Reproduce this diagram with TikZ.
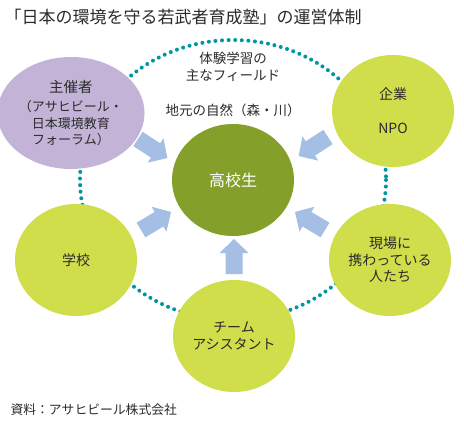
\documentclass[tikz,border=0pt]{standalone}
\usepackage{fontspec}
\setmainfont{Noto Sans CJK JP}
\usepackage{tikz}
\usetikzlibrary{shapes.geometric}
\definecolor{txtgray}{HTML}{2B2B2B}
\definecolor{hostpurple}{HTML}{C3B4D7}
\definecolor{partnergreen}{HTML}{D0DE4C}
\definecolor{studentgreen}{HTML}{84A02A}
\definecolor{ringteal}{HTML}{0096A0}
\definecolor{arrowblue}{HTML}{A4BEE4}

\begin{document}
\begin{tikzpicture}[
    x=1pt, y=-1pt,
    member/.style={ellipse, fill=partnergreen, minimum width=122pt,
                   minimum height=112pt, inner sep=0pt, align=center,
                   text=txtgray, font=\fontsize{14}{16.5}\selectfont},
    ring/.style={ringteal, line width=4pt, line cap=round,
                 dash pattern=on 0pt off 6.6pt},
    label/.style={text=txtgray, align=center,
                  font=\fontsize{13.5}{17}\selectfont},
    barrow/.pic={
      \fill[arrowblue] (0,-8.5) -- (21,-8.5) -- (21,-14.5) -- (35,0)
        -- (21,14.5) -- (21,8.5) -- (0,8.5) -- cycle;
    }
  ]
  \useasboundingbox[fill=white] (0,0) rectangle (464,426);

  % Title and source
  \node[anchor=west, text=txtgray, font=\fontsize{17}{19}\selectfont]
    (title) at (1,17) {「日本の環境を守る若武者育成塾」の運営体制};
  \node[anchor=west, text=txtgray, font=\fontsize{12.8}{15}\selectfont]
    (source) at (7,410) {資料：アサヒビール株式会社};

  % Center node and dotted ring
  \coordinate (mid) at (233,180);
  \draw[ring] (mid) ellipse [x radius=153, y radius=140];
  \node[member, fill=studentgreen, text=white,
        font=\fontsize{16}{18}\selectfont] (student) at (mid) {高校生};

  % Surrounding members
  \node[member, fill=hostpurple, font=\fontsize{13}{16.5}\selectfont]
    (host) at (71,113)
    {{\fontsize{14.5}{16.5}\selectfont 主催者}\\[3pt]
     （アサヒビール・\\日本環境教育\\フォーラム）};
  \node[member] (company) at (393,111) {企業\\[17.5pt]NPO};
  \node[member] (school) at (76,260) {学校};
  \node[member] (locals) at (390,260) {現場に\\携わっている\\人たち};
  \node[member] (assist) at (234,336) {チーム\\アシスタント};

  % Field labels
  \node[label] (field) at (233,66.5) {体験学習の\\主なフィールド};
  \node[label] (nature) at (233,110) {地元の自然（森・川）};

  % Block arrows into the center
  \pic[rotate=-33] at (138,139) {barrow};
  \pic[rotate=-147] at (328,137) {barrow};
  \pic[rotate=31] at (141,230) {barrow};
  \pic[rotate=149] at (325,230) {barrow};
  \pic[rotate=90] at (234,274) {barrow};
\end{tikzpicture}
\end{document}
